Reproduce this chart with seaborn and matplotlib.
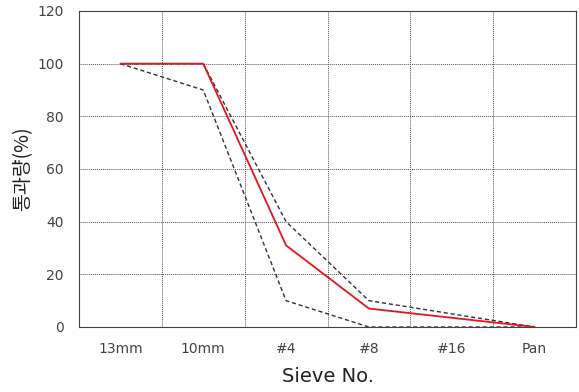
import matplotlib
matplotlib.use("Agg")
import matplotlib.pyplot as plt
import seaborn as sns
import pandas as pd
import numpy as np

# Data
tick_labels = ["13mm", "10mm", "#4", "#8", "#16", "Pan"]
point_sieves = ["13mm", "10mm", "#4", "#8", "Pan"]
mix_values = [100, 100, 31, 7, 0]
upper_limit = [100, 100, 40, 10, 0]
lower_limit = [100, 90, 10, 0, 0]

sns.set_style("white")
plt.rcParams['font.family'] = ['DejaVu Sans', 'Noto Sans CJK KR']

pos = [tick_labels.index(s) for s in point_sieves]
df = pd.DataFrame({"pos": pos * 3,
                   "val": mix_values + upper_limit + lower_limit,
                   "series": ["mix"] * 5 + ["upper"] * 5 + ["lower"] * 5})

fig = plt.figure(figsize=(5.79, 3.92), dpi=100)
ax = fig.add_axes([79 / 579, 1 - 327 / 392, (576 - 79) / 579, (327 - 11) / 392])

for s, color, ls, lw in [("upper", "#333333", (0, (3, 2)), 1.0),
                         ("lower", "#333333", (0, (3, 2)), 1.0),
                         ("mix", "#e8141c", "-", 1.3)]:
    sns.lineplot(data=df[df.series == s], x="pos", y="val", color=color,
                 linestyle=ls, linewidth=lw, ax=ax, legend=False, zorder=3)

ax.set_xlim(-0.5, 5.5)
ax.set_ylim(0, 120)
ax.set_xticks(range(len(tick_labels)))
ax.set_xticklabels(tick_labels)
ax.set_yticks(np.arange(0, 121, 20))
ax.tick_params(axis="both", length=0, labelsize=10, colors="#444444")
ax.tick_params(axis="x", pad=11)
ax.tick_params(axis="y", pad=11)

for x in np.arange(0.5, 5.5, 1):
    ax.axvline(x, color="#555555", linestyle=(0, (1, 1)), linewidth=0.7, zorder=1)
for y in np.arange(20, 120, 20):
    ax.axhline(y, color="#555555", linestyle=(0, (1, 1)), linewidth=0.7, zorder=1)

for sp in ax.spines.values():
    sp.set_color("#444444")
    sp.set_linewidth(0.8)

ax.set_xlabel("Sieve No.", fontsize=14, labelpad=8, color="#222222")
ax.set_ylabel("통과량(%)", fontsize=14, labelpad=3, color="#222222",
              family=['Noto Sans CJK KR', 'DejaVu Sans'])

fig.savefig("out.png", dpi=100)
